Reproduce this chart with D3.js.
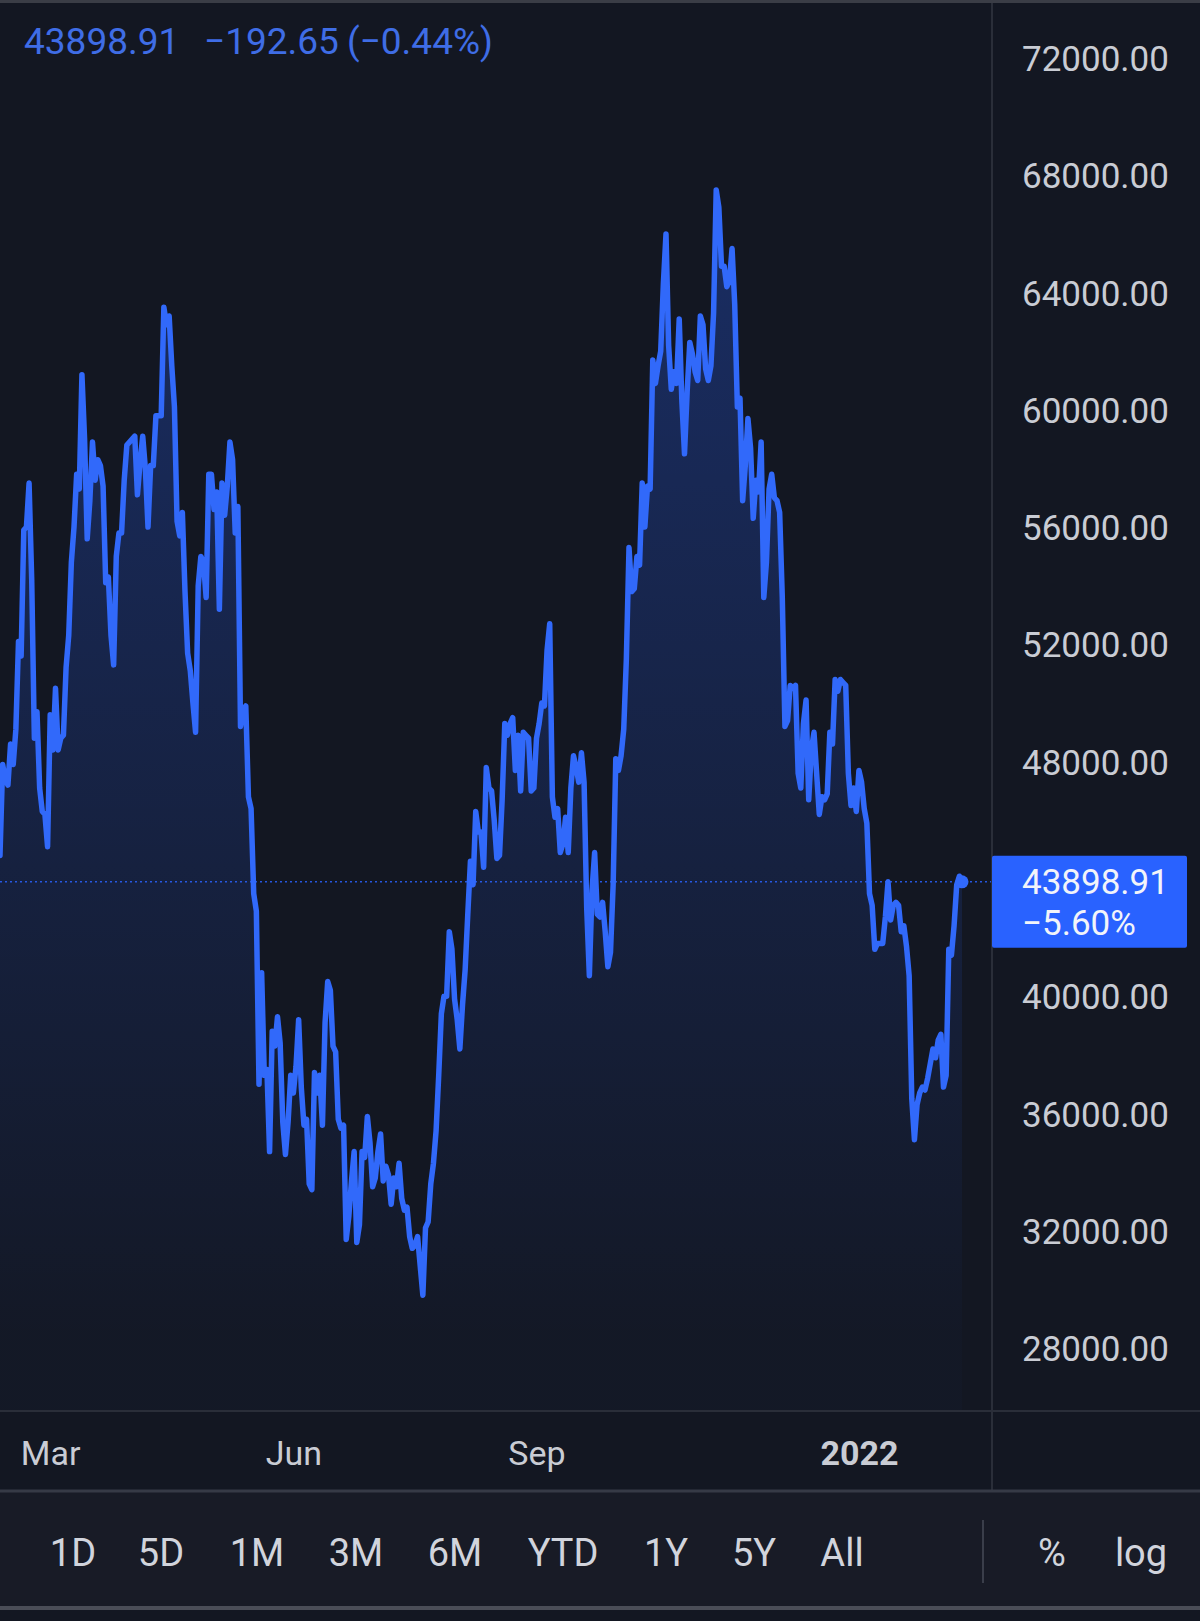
<!DOCTYPE html>
<html>
<head>
<meta charset="utf-8">
<script src="https://cdn.jsdelivr.net/npm/d3@7"></script>
<style>
  html, body { margin: 0; padding: 0; background: #131722; }
  svg { display: block; font-family: Roboto, "Noto Sans", sans-serif; }
</style>
</head>
<body>
<svg id="chart" width="1200" height="1621"></svg>
<script>
// ---- Data: daily closes (USD), 10 Feb 2021 .. 9 Feb 2022 ----
const startDate = "2021-02-10";
const feb21 = [44800, 47900, 47400, 47200, 48600, 47900, 49100, 52100, 51600, 55900, 56000, 57500, 54200, 48800, 49700, 47100, 46300, 46200, 45100];
const mar21 = [49600, 48400, 50500, 48400, 48800, 48900, 51200, 52300, 54800, 56000, 57800, 57300, 61200, 59000, 55600, 56900, 58900, 57600, 58300, 58100, 57400, 54100, 54300, 52300, 51300, 55000, 55800, 55800, 57600, 58800, 58900];
const apr21 = [59000, 59100, 57100, 58200, 59100, 58000, 56000, 58100, 58100, 59800, 59800, 59800, 63500, 62900, 63200, 61500, 60100, 56200, 55700, 56500, 53800, 51700, 51100, 50000, 49000, 54000, 55000, 54800, 53600, 57800];
const may21 = [57800, 56600, 57200, 53200, 57500, 56400, 57400, 58900, 58300, 55800, 56700, 49200, 49700, 49900, 46800, 46400, 43500, 42900, 37000, 40800, 37300, 37500, 34700, 38800, 38300, 39300, 38400, 35700, 34600, 35700, 37300];
const jun21 = [36700, 37600, 39200, 36900, 35600, 35800, 33600, 33400, 37400, 36700, 37300, 35600, 39100, 40500, 40200, 38300, 38100, 35800, 35500, 35600, 31700, 32500, 33700, 34700, 31600, 32200, 34700, 34500, 35900, 35000];
const jul21 = [33500, 33800, 34700, 35300, 33700, 34200, 33900, 32900, 33800, 33500, 34300, 33100, 32700, 32800, 31800, 31400, 31500, 31800, 30800, 29800, 32100, 32300, 33600, 34300, 35400, 37300, 39400, 40000, 40000, 42200, 41600];
const aug21 = [39900, 39200, 38200, 39700, 40900, 42800, 44600, 43800, 46300, 45600, 45600, 44400, 47800, 47100, 47000, 46000, 44700, 44800, 46700, 49300, 48900, 49300, 49500, 47700, 48900, 47000, 49000, 48900, 48800, 47000, 47100];
const sep21 = [48800, 49300, 50000, 49900, 51800, 52700, 46800, 46100, 46400, 44900, 45200, 46100, 44900, 47100, 48200, 47800, 47300, 48300, 47300, 43000, 40700, 43600, 44900, 42800, 42700, 43200, 42200, 41000, 41500, 43800];
const oct21 = [48100, 47700, 48200, 49100, 51500, 55300, 53800, 53900, 55000, 54700, 57500, 56000, 57400, 57300, 61700, 60900, 61500, 62000, 64300, 66000, 62200, 60700, 61300, 60900, 63100, 60300, 58500, 60600, 62300, 61900, 61300];
const nov21 = [61000, 63200, 62900, 61400, 61000, 61500, 63300, 67500, 66900, 64900, 64900, 64200, 64400, 65500, 63600, 60100, 60400, 56900, 58100, 59700, 58700, 56300, 57600, 57200, 58900, 53600, 54800, 57300, 57800, 57000];
const dec21 = [56900, 56500, 53600, 49200, 49400, 50600, 50500, 50600, 47600, 47100, 49300, 50100, 46700, 48400, 49000, 47600, 46200, 46800, 46700, 46900, 49000, 48600, 50800, 50400, 50800, 50700, 50600, 47600, 46500, 47100, 46300];
const jan22 = [47700, 47300, 46400, 45900, 43500, 43100, 41600, 41800, 41800, 41800, 42700, 43900, 42600, 43100, 43200, 43100, 42200, 42400, 41700, 40700, 36500, 35100, 36300, 36700, 36900, 36800, 37200, 37700, 38200, 37900, 38500];
const feb22 = [38700, 36900, 37300, 41600, 41400, 42400, 43800, 44091.56, 43898.91];

const lastPrice = 43898.91;
const headerTexts = ["43898.91", "\u2212192.65", "(\u22120.44%)"];
const labelTexts = ["43898.91", "\u22125.60%"];
const yTicks = [28000, 32000, 36000, 40000, 44000, 48000, 52000, 56000, 60000, 64000, 68000, 72000];
const xTicks = ["2021-03-01", "2021-06-01", "2021-09-01", "2022-01-01"];
const xTickLabels = ["Mar", "Jun", "Sep", "2022"];
const buttons = ["1D", "5D", "1M", "3M", "6M", "YTD", "1Y", "5Y", "All"];
const rightButtons = ["%", "log"];

// ---- Build series ----
const closes = [].concat(feb21, mar21, apr21, may21, jun21, jul21, aug21, sep21, oct21, nov21, dec21, jan22, feb22);
const parse = d3.utcParse("%Y-%m-%d");
const t0 = parse(startDate);
const data = closes.map((v, i) => ({ date: d3.utcDay.offset(t0, i), value: v }));

const W = 1200, H = 1621;
const plotRight = 992, axisTop = 1411, toolTop = 1491, toolBottom = 1608;

const svg = d3.select("#chart");

const x = d3.scaleUtc()
  .domain([t0, data[data.length - 1].date])
  .range([0, 962]);
const y = d3.scaleLinear().domain([28000, 72000]).range([1348, 58]);

// Background pieces
svg.append("rect").attr("x", 0).attr("y", 0).attr("width", W).attr("height", H).attr("fill", "#131722");
svg.append("rect").attr("x", 0).attr("y", toolTop).attr("width", W).attr("height", toolBottom - toolTop).attr("fill", "#181b26");
svg.append("rect").attr("x", 0).attr("y", 0).attr("width", W).attr("height", 3).attr("fill", "#3a3d46");

// Gradient for area
const defs = svg.append("defs");
const grad = defs.append("linearGradient").attr("id", "areaGrad")
  .attr("gradientUnits", "userSpaceOnUse").attr("x1", 0).attr("y1", 180).attr("x2", 0).attr("y2", 1330);
grad.append("stop").attr("offset", 0).attr("stop-color", "#2962ff").attr("stop-opacity", 0.3);
grad.append("stop").attr("offset", 1).attr("stop-color", "#2962ff").attr("stop-opacity", 0.02);
defs.append("clipPath").attr("id", "plotClip").append("rect")
  .attr("x", 0).attr("y", 3).attr("width", plotRight).attr("height", axisTop - 3);

const plot = svg.append("g").attr("clip-path", "url(#plotClip)");

const area = d3.area().x(d => x(d.date)).y0(axisTop).y1(d => y(d.value));
const line = d3.line().x(d => x(d.date)).y(d => y(d.value));

plot.append("path").datum(data).attr("d", area).attr("fill", "url(#areaGrad)");

// Last price dotted line
plot.append("line")
  .attr("x1", 0).attr("x2", plotRight)
  .attr("y1", y(lastPrice)).attr("y2", y(lastPrice))
  .attr("stroke", "#2962ff").attr("stroke-width", 1.5)
  .attr("stroke-dasharray", "2,3").attr("opacity", 0.85);

plot.append("path").datum(data).attr("d", line)
  .attr("fill", "none").attr("stroke", "#3169fa").attr("stroke-width", 5.5)
  .attr("stroke-linejoin", "round").attr("stroke-linecap", "round");

const last = data[data.length - 1];
plot.append("circle").attr("cx", x(last.date)).attr("cy", y(last.value)).attr("r", 6.5).attr("fill", "#3169fa");

// Separators
svg.append("line").attr("x1", plotRight).attr("x2", plotRight).attr("y1", 3).attr("y2", toolTop)
  .attr("stroke", "#2a2e39").attr("stroke-width", 2);
svg.append("line").attr("x1", 0).attr("x2", W).attr("y1", axisTop).attr("y2", axisTop)
  .attr("stroke", "#2a2e39").attr("stroke-width", 2);
svg.append("line").attr("x1", 0).attr("x2", W).attr("y1", toolTop).attr("y2", toolTop)
  .attr("stroke", "#363a46").attr("stroke-width", 3);
svg.append("line").attr("x1", 0).attr("x2", W).attr("y1", toolBottom).attr("y2", toolBottom)
  .attr("stroke", "#4a4d57").attr("stroke-width", 4);

// Y axis
const yAxis = d3.axisRight(y).tickValues(yTicks).tickFormat(d3.format(".2f")).tickSize(0).tickPadding(0);
const gy = svg.append("g").attr("transform", "translate(1022,0)").call(yAxis);
gy.select(".domain").remove();
gy.selectAll("text").attr("fill", "#c9ccd4").attr("font-size", 35)
  .attr("font-family", "Roboto, sans-serif").attr("text-anchor", "start").attr("dy", "0.36em");

// X axis
const xAxis = d3.axisBottom(x).tickValues(xTicks.map(parse))
  .tickFormat((d, i) => xTickLabels[i]).tickSize(0).tickPadding(0);
const gx = svg.append("g").attr("transform", "translate(0,1453)").call(xAxis);
gx.select(".domain").remove();
gx.selectAll("text").attr("fill", "#c9ccd4").attr("font-size", 34)
  .attr("font-family", "Roboto, sans-serif").attr("y", 0).attr("dy", "0.36em")
  .attr("font-weight", (d, i) => i === 3 ? 700 : 400);

// Last price label box
const ly = y(lastPrice);
svg.append("rect").attr("x", plotRight).attr("y", ly - 26).attr("width", 195).attr("height", 92)
  .attr("rx", 2).attr("fill", "#2962ff");
svg.append("text").attr("x", 1022).attr("y", ly).attr("dy", "0.36em")
  .attr("fill", "#f2f4fa").attr("font-size", 35).text(labelTexts[0]);
svg.append("text").attr("x", 1022).attr("y", ly + 41).attr("dy", "0.36em")
  .attr("fill", "#f2f4fa").attr("font-size", 35).text(labelTexts[1]);

// Header
const headerX = [24, 204, 347];
svg.append("g").selectAll("text").data(headerTexts).join("text")
  .attr("x", (d, i) => headerX[i]).attr("y", 41).attr("dy", "0.36em")
  .attr("font-size", 37).attr("fill", "#3f6de6").text(d => d);

// Toolbar
const btnX = [73, 161, 257, 356, 455, 563, 666, 754, 842];
svg.append("g").selectAll("text").data(buttons).join("text")
  .attr("x", (d, i) => btnX[i]).attr("y", 1552).attr("dy", "0.36em")
  .attr("text-anchor", "middle").attr("font-size", 38).attr("fill", "#d1d4dc").text(d => d);
const rbX = [1052, 1141];
svg.append("g").selectAll("text").data(rightButtons).join("text")
  .attr("x", (d, i) => rbX[i]).attr("y", 1552).attr("dy", "0.36em")
  .attr("text-anchor", "middle").attr("font-size", 38).attr("fill", "#d1d4dc").text(d => d);
svg.append("line").attr("x1", 983).attr("x2", 983).attr("y1", 1520).attr("y2", 1583)
  .attr("stroke", "#3a3e4a").attr("stroke-width", 2);
</script>
</body>
</html>
